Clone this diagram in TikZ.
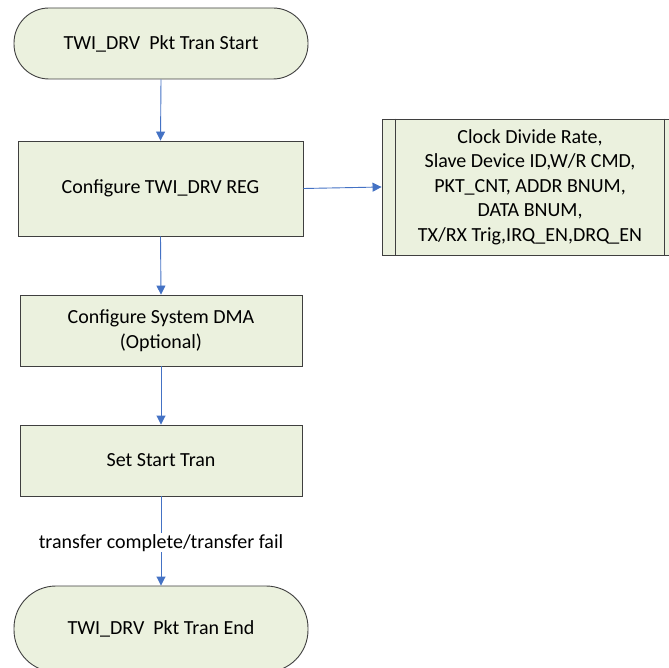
\documentclass[tikz,border=0pt]{standalone}
\usepackage{fontspec}
\setmainfont{Carlito}
\usetikzlibrary{arrows.meta}
\definecolor{boxfill}{HTML}{EBF1DE}
\definecolor{boxline}{HTML}{3F3F3F}
\definecolor{conn}{HTML}{4472C4}
\begin{document}
\begin{tikzpicture}[x=1pt,y=-1pt,
  every node/.style={font=\fontsize{20}{24.4}\selectfont, align=center, inner sep=0pt},
  term/.style={draw=boxline, fill=boxfill, line width=0.9pt, rectangle, rounded corners=35pt, minimum width=294pt},
  proc/.style={draw=boxline, fill=boxfill, line width=0.9pt, rectangle},
  flow/.style={draw=conn, line width=0.9pt, -{Triangle[length=9pt,width=9pt]}}]
\useasboundingbox (0,0) rectangle (669,668);
\node[term, minimum height=71pt] (start) at (161,43.5) {TWI\_DRV\ \ Pkt Tran Start};
\node[proc, minimum width=285pt, minimum height=95pt] (reg) at (160.5,188.5) {Configure TWI\_DRV REG};
\node[proc, minimum width=282pt, minimum height=71pt] (dma) at (161,330.5) {Configure System DMA\\(Optional)};
\node[proc, minimum width=282pt, minimum height=71pt] (set) at (161,460.5) {Set Start Tran};
\node[term, rounded corners=42pt, minimum height=86pt] (end) at (161,629) {TWI\_DRV\ \ Pkt Tran End};
\node[proc, minimum width=296pt, minimum height=136pt] (cfg) at (530,187) {Clock Divide Rate,\\Slave Device ID,W/R CMD,\\PKT\_CNT, ADDR BNUM,\\DATA BNUM,\\TX/RX Trig,IRQ\_EN,DRQ\_EN};
\draw[draw=boxline, line width=0.9pt] ([xshift=14pt]cfg.north west) -- ([xshift=14pt]cfg.south west);
\draw[draw=boxline, line width=0.9pt] ([xshift=-14pt]cfg.north east) -- ([xshift=-14pt]cfg.south east);
\draw[flow] (start.south) -- (reg.north);
\draw[flow] (reg.south) -- (dma.north);
\draw[flow] (dma.south) -- (set.north);
\draw[flow] (set.south) -- node[pos=0.52, fill=white, inner sep=1pt] (lbl) {transfer complete/transfer fail} (end.north);
\draw[flow] (reg.east) -- (cfg.west);
\end{tikzpicture}
\end{document}
